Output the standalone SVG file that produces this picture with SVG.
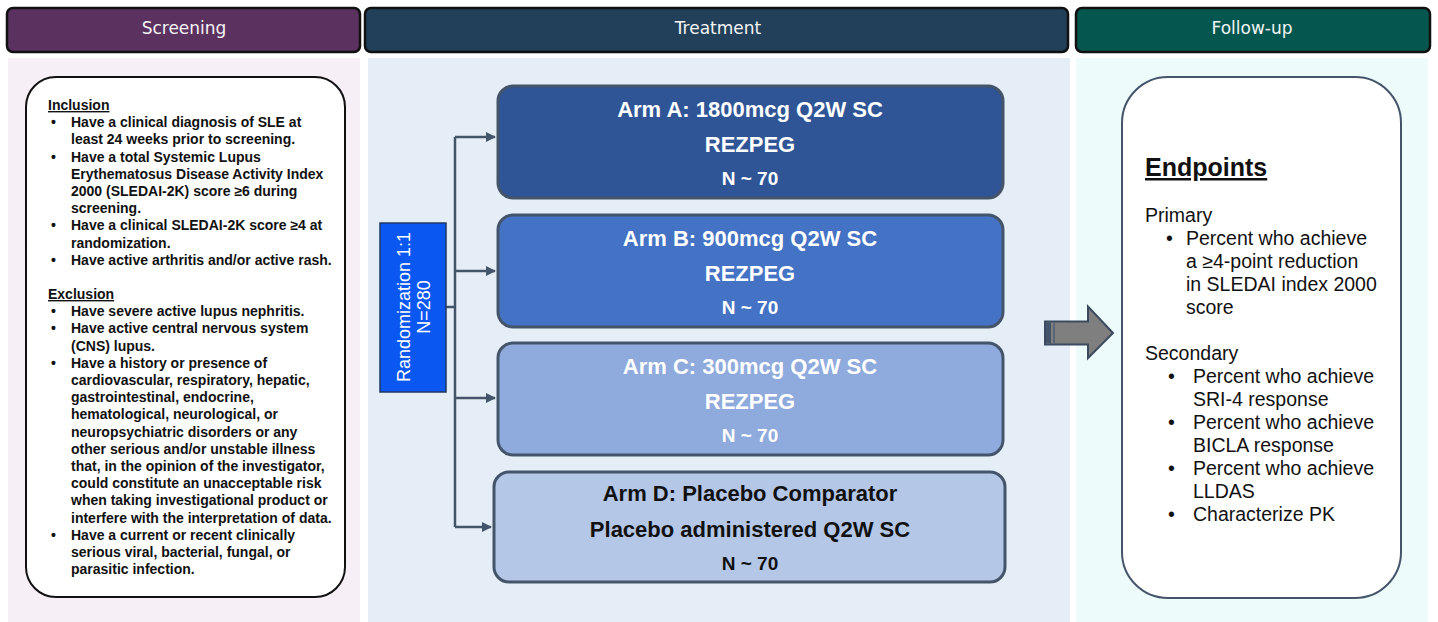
<svg xmlns="http://www.w3.org/2000/svg" width="1438" height="622" viewBox="0 0 1438 622">
<defs>
<style>
.hdr{stroke:#111;stroke-width:2.5}
.htxt{font-family:"DejaVu Sans",Verdana,sans-serif;font-size:17px;fill:#f4f4f4;text-anchor:middle}
.scr{font-family:"Liberation Sans",Arial,sans-serif;font-size:14px;font-weight:bold;fill:#111}
.arm{stroke:#44546a;stroke-width:3}
.at{font-family:"Liberation Sans",Arial,sans-serif;font-weight:bold;text-anchor:middle}
.t22{font-size:22px}
.t19{font-size:19px}
.w{fill:#ffffff}
.k{fill:#111111}
.conn{stroke:#44546a;stroke-width:2.5;fill:none}
.fu{font-family:"Liberation Sans",Arial,sans-serif;font-size:19.5px;fill:#111}
</style>
<marker id="ah" viewBox="0 0 10 10" refX="9" refY="5" markerWidth="4" markerHeight="4" orient="auto" markerUnits="strokeWidth">
<path d="M0,0 L10,5 L0,10 z" fill="#44546a"/>
</marker>
</defs>
<rect width="1438" height="622" fill="#ffffff"/>
<!-- panels -->
<rect x="8" y="58" width="352" height="564" fill="#f6eff6"/>
<rect x="368" y="58" width="702" height="564" fill="#e5eef6"/>
<rect x="1076" y="58" width="352" height="564" fill="#edfbfb"/>
<!-- headers -->
<g id="hdr-screening">
<rect class="hdr" x="7" y="8" width="353" height="44" rx="6" fill="#5b3160"/>
<text class="htxt" x="184" y="34">Screening</text>
</g>
<g id="hdr-treatment">
<rect class="hdr" x="365" y="8" width="703" height="44" rx="6" fill="#22405a"/>
<text class="htxt" x="718" y="34">Treatment</text>
</g>
<g id="hdr-followup">
<rect class="hdr" x="1076" y="8" width="354" height="44" rx="6" fill="#04574f"/>
<text class="htxt" x="1252" y="34">Follow-up</text>
</g>
<!-- screening criteria -->
<g id="criteria">
<rect x="26" y="77" width="319" height="520" rx="30" fill="#ffffff" stroke="#111" stroke-width="2"/>
<g class="scr">
<text x="48" y="110" text-decoration="underline">Inclusion</text>
<text x="51" y="127.2">•</text><text x="71" y="127.2">Have a clinical diagnosis of SLE at</text>
<text x="71" y="144.4">least 24 weeks prior to screening.</text>
<text x="51" y="161.6">•</text><text x="71" y="161.6">Have a total Systemic Lupus</text>
<text x="71" y="178.7">Erythematosus Disease Activity Index</text>
<text x="71" y="195.9">2000 (SLEDAI-2K) score ≥6 during</text>
<text x="71" y="213.1">screening.</text>
<text x="51" y="230.3">•</text><text x="71" y="230.3">Have a clinical SLEDAI-2K score ≥4 at</text>
<text x="71" y="247.5">randomization.</text>
<text x="51" y="264.7">•</text><text x="71" y="264.7">Have active arthritis and/or active rash.</text>
<text x="48" y="299" text-decoration="underline">Exclusion</text>
<text x="51" y="316.2">•</text><text x="71" y="316.2">Have severe active lupus nephritis.</text>
<text x="51" y="333.4">•</text><text x="71" y="333.4">Have active central nervous system</text>
<text x="71" y="350.6">(CNS) lupus.</text>
<text x="51" y="367.8">•</text><text x="71" y="367.8">Have a history or presence of</text>
<text x="71" y="385">cardiovascular, respiratory, hepatic,</text>
<text x="71" y="402.1">gastrointestinal, endocrine,</text>
<text x="71" y="419.3">hematological, neurological, or</text>
<text x="71" y="436.5">neuropsychiatric disorders or any</text>
<text x="71" y="453.7">other serious and/or unstable illness</text>
<text x="71" y="470.9">that, in the opinion of the investigator,</text>
<text x="71" y="488.1">could constitute an unacceptable risk</text>
<text x="71" y="505.3">when taking investigational product or</text>
<text x="71" y="522.5">interfere with the interpretation of data.</text>
<text x="51" y="539.7">•</text><text x="71" y="539.7">Have a current or recent clinically</text>
<text x="71" y="556.9">serious viral, bacterial, fungal, or</text>
<text x="71" y="574.1">parasitic infection.</text>
</g>
</g>
<!-- connectors -->
<g id="connectors">
<path class="conn" d="M446,307 H455 M455,137 V527"/>
<path class="conn" d="M455,137 H495" marker-end="url(#ah)"/>
<path class="conn" d="M455,271 H495" marker-end="url(#ah)"/>
<path class="conn" d="M455,398 H495" marker-end="url(#ah)"/>
<path class="conn" d="M455,527 H491" marker-end="url(#ah)"/>
</g>
<!-- randomization -->
<g id="randomization">
<rect x="380" y="223" width="66" height="169" fill="#0b57f2" stroke="#1f3864" stroke-width="1.5"/>
<text transform="translate(410,307) rotate(-90)" font-family="Liberation Sans,Arial,sans-serif" font-size="18" fill="#ffffff" text-anchor="middle">Randomization 1:1</text>
<text transform="translate(430,307) rotate(-90)" font-family="Liberation Sans,Arial,sans-serif" font-size="18" fill="#ffffff" text-anchor="middle">N=280</text>
</g>
<!-- arms -->
<g id="arm-a">
<rect class="arm" x="498" y="86" width="505" height="112" rx="15" fill="#2f5597"/>
<text class="at t22 w" x="750" y="117">Arm A: 1800mcg Q2W SC</text>
<text class="at t22 w" x="750" y="152">REZPEG</text>
<text class="at t19 w" x="750" y="185">N ~ 70</text>
</g>
<g id="arm-b">
<rect class="arm" x="498" y="215" width="505" height="112" rx="15" fill="#4472c4"/>
<text class="at t22 w" x="750" y="246">Arm B: 900mcg Q2W SC</text>
<text class="at t22 w" x="750" y="281">REZPEG</text>
<text class="at t19 w" x="750" y="314">N ~ 70</text>
</g>
<g id="arm-c">
<rect class="arm" x="498" y="343" width="505" height="112" rx="15" fill="#8faadc"/>
<text class="at t22 w" x="750" y="374">Arm C: 300mcg Q2W SC</text>
<text class="at t22 w" x="750" y="409">REZPEG</text>
<text class="at t19 w" x="750" y="442">N ~ 70</text>
</g>
<g id="arm-d">
<rect class="arm" x="494" y="472" width="511" height="110" rx="15" fill="#b4c7e7"/>
<text class="at t22 k" x="750" y="501">Arm D: Placebo Comparator</text>
<text class="at t22 k" x="750" y="537">Placebo administered Q2W SC</text>
<text class="at t19 k" x="750" y="570">N ~ 70</text>
</g>
<!-- big arrow -->
<g id="big-arrow">
<path d="M1045,321.5 H1088 V306.5 L1113,333 L1088,358 V344.5 H1045 Z" fill="#7f7f7f" stroke="#3b4a5f" stroke-width="2"/>
<rect x="1046" y="322.5" width="5" height="21" fill="#44546a"/>
<rect x="1053" y="322.5" width="2" height="21" fill="#5a6678"/>
</g>
<!-- endpoints -->
<g id="endpoints">
<rect x="1122" y="77" width="279" height="521" rx="46" fill="#ffffff" stroke="#44546a" stroke-width="2"/>
<text x="1145" y="176" font-family="Liberation Sans,Arial,sans-serif" font-size="25" font-weight="bold" fill="#111" text-decoration="underline">Endpoints</text>
<g class="fu">
<text x="1145" y="222">Primary</text>
<text x="1166" y="245">•</text><text x="1186" y="245">Percent who achieve</text>
<text x="1186" y="268">a ≥4-point reduction</text>
<text x="1186" y="291">in SLEDAI index 2000</text>
<text x="1186" y="314">score</text>
<text x="1145" y="360">Secondary</text>
<text x="1168" y="383">•</text><text x="1193" y="383">Percent who achieve</text>
<text x="1193" y="406">SRI-4 response</text>
<text x="1168" y="429">•</text><text x="1193" y="429">Percent who achieve</text>
<text x="1193" y="452">BICLA response</text>
<text x="1168" y="475">•</text><text x="1193" y="475">Percent who achieve</text>
<text x="1193" y="498">LLDAS</text>
<text x="1168" y="521">•</text><text x="1193" y="521">Characterize PK</text>
</g>
</g>
</svg>
